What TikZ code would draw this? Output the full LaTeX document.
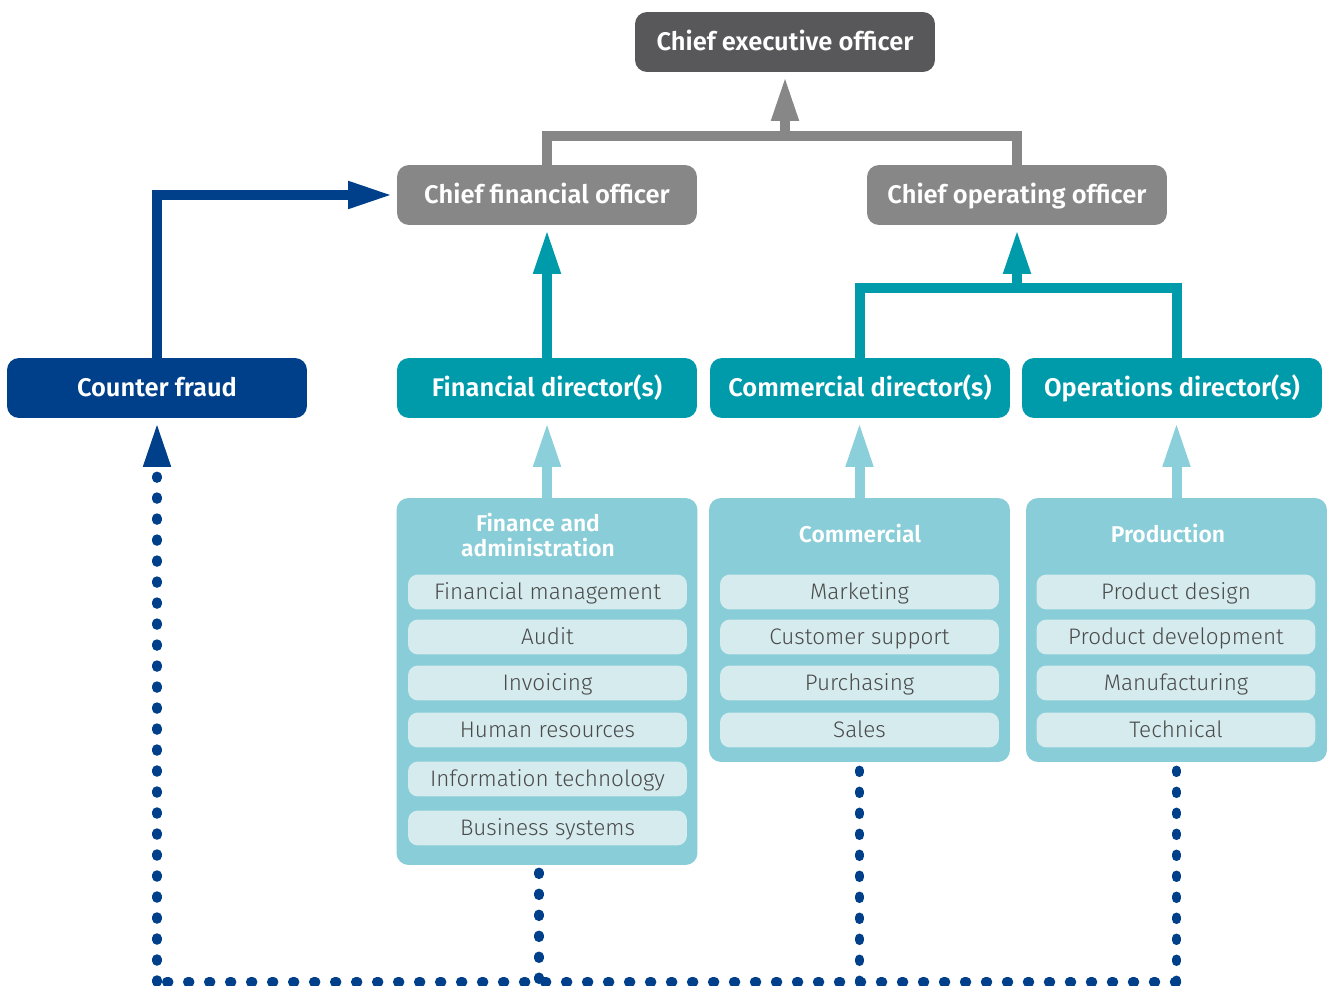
\documentclass[tikz,border=0pt]{standalone}
\usepackage{fontspec}
\setmainfont{Fira Sans}[BoldFont={Fira Sans SemiBold}]
\newfontfamily\itemfont{Fira Sans Light}
\usetikzlibrary{arrows.meta}

\definecolor{ceogrey}{HTML}{58585A}
\definecolor{officegrey}{HTML}{878787}
\definecolor{fraudblue}{HTML}{00408A}
\definecolor{dirteal}{HTML}{009BAA}
\definecolor{grouplight}{HTML}{88CDD7}
\definecolor{itempale}{HTML}{D5EBEE}
\definecolor{itemtext}{HTML}{4A4A4A}
\definecolor{linklight}{HTML}{8ACFD9}

\begin{document}
\begin{tikzpicture}[x=0.02cm,y=-0.02cm,
  every node/.style={rounded corners=0.24cm,inner sep=0pt},
  role/.style={text=white,minimum width=6cm,minimum height=1.2cm,text height=2.25ex,text depth=0.5ex,font=\bfseries\fontsize{14.5}{17}\selectfont},
  group/.style={fill=grouplight,minimum width=6.02cm},
  grouptitle/.style={text=white,align=center,font=\bfseries\fontsize{13}{13.7}\selectfont},
  item/.style={fill=itempale,text=itemtext,minimum width=5.58cm,minimum height=0.7cm,text height=2.1ex,text depth=0.5ex,rounded corners=0.2cm,font=\itemfont\fontsize{12.8}{14}\selectfont},
  tip/.style={-{Triangle[length=0.9cm,width=0.5cm]},shorten >=2pt},
  greyline/.style={draw=officegrey,line width=0.2cm},
  tealline/.style={draw=dirteal,line width=0.2cm},
  blueline/.style={draw=fraudblue,line width=0.2cm},
  paleline/.style={draw=linklight,line width=0.2cm},
  dotline/.style={draw=fraudblue,line width=0.19cm,line cap=round,dash pattern=on 0.04cm off 0.38cm}]

  \useasboundingbox (0,0) rectangle (1333,986);

  \node[role,fill=ceogrey] (ceo) at (785,42) {Chief executive officer};
  \node[role,fill=officegrey] (cfo) at (547,195) {Chief financial officer};
  \node[role,fill=officegrey] (coo) at (1017,195) {Chief operating officer};

  \node[role,fill=fraudblue] (cf) at (157,388) {Counter fraud};
  \node[role,fill=dirteal] (fd) at (547,388) {Financial director(s)};
  \node[role,fill=dirteal] (cd) at (860,388) {Commercial director(s)};
  \node[role,fill=dirteal] (od) at (1172,388) {Operations director(s)};

  \node[group,minimum height=7.34cm] (fa) at (547,681.5) {};
  \node[group,minimum height=5.28cm] (com) at (859.5,630) {};
  \node[group,minimum height=5.28cm] (prod) at (1176.5,630) {};

  \node[grouptitle] (fatitle) at (538,535) {Finance and\\administration};
  \node[grouptitle] (comtitle) at (860,534) {Commercial};
  \node[grouptitle] (prodtitle) at (1168,534) {Production};

  \foreach \y/\t [count=\i] in {592/Financial management,637/Audit,683/Invoicing,
      730/Human resources,779/Information technology,828/Business systems}
    \node[item] (fa\i) at (547.5,\y) {\t};
  \foreach \y/\t [count=\i] in {592/Marketing,637/Customer support,683/Purchasing,730/Sales}
    \node[item] (com\i) at (859.5,\y) {\t};
  \foreach \y/\t [count=\i] in {592/Product design,637/Product development,683/Manufacturing,730/Technical}
    \node[item] (prod\i) at (1176,\y) {\t};

  \coordinate (greybar) at (785,136);
  \coordinate (tealbar) at (1017,288);
  \coordinate (bot) at (157,982);

  \draw[greyline] (cfo.north) |- (greybar) -| (coo.north);
  \draw[greyline,tip] (greybar) -- (ceo.south);

  \draw[tealline,tip] (fd.north) -- (cfo.south);
  \draw[tealline] (cd.north) |- (tealbar) -| (prod.north |- od.north);
  \draw[tealline,tip] (tealbar) -- (coo.south);

  \draw[blueline,tip] (cf.north) |- (cfo.west);

  \draw[paleline,tip] (fa.north) -- (fd.south);
  \draw[paleline,tip] (com.north) -- (com.north |- cd.south);
  \draw[paleline,tip] (prod.north) -- (prod.north |- od.south);

  \draw[dotline] ([xshift=-0.16cm,yshift=-0.14cm]fa.south) -- ([xshift=-0.16cm]fa.south |- bot);
  \draw[dotline] ([yshift=-0.16cm]com.south) -- (com.south |- bot);
  \draw[dotline] ([yshift=-0.16cm]prod.south) -- (prod.south |- bot);
  \draw[dotline] (prod.south |- bot) -- (bot);
  \draw[dotline] (bot) -- ([yshift=-1.16cm]cf.south);
  \draw[blueline,-{Triangle[length=0.9cm,width=0.5cm]}] ([yshift=-0.95cm]cf.south) -- ([yshift=-2pt]cf.south);

\end{tikzpicture}
\end{document}
